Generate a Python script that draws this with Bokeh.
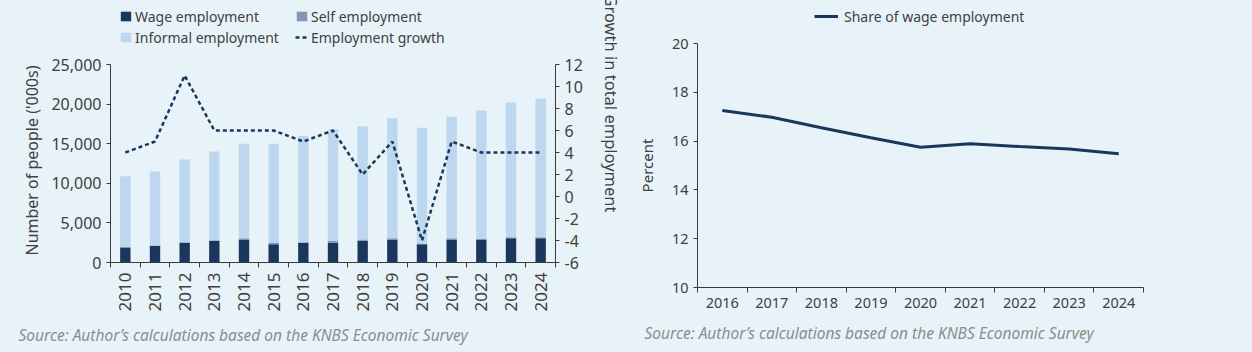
from bokeh.plotting import figure
from bokeh.models import (Range1d, LinearAxis, FixedTicker, NumeralTickFormatter,
                          Legend, LegendItem, Title, ColumnDataSource)
from bokeh.embed import file_html
from bokeh.resources import INLINE
from jinja2 import Template
from math import pi

# ---------------- data ----------------
years = [2010, 2011, 2012, 2013, 2014, 2015, 2016, 2017, 2018, 2019, 2020, 2021, 2022, 2023, 2024]
wage_employment = [1900, 2100, 2500, 2750, 2850, 2300, 2500, 2500, 2750, 2850, 2300, 2850, 2850, 3050, 3050]
self_employment = [50, 50, 50, 50, 200, 150, 50, 250, 150, 200, 100, 200, 150, 150, 150]
informal_employment = [8950, 9350, 10450, 11200, 11950, 12550, 13450, 14050, 14300, 15150, 14600, 15350, 16200, 17000, 17500]
employment_growth = [4, 5, 11, 6, 6, 6, 5, 6, 2, 5, -4, 5, 4, 4, 4]

share_years = [2016, 2017, 2018, 2019, 2020, 2021, 2022, 2023, 2024]
share_wage = [17.25, 16.98, 16.55, 16.14, 15.75, 15.89, 15.78, 15.68, 15.48]

left_ticks = [0, 5000, 10000, 15000, 20000, 25000]
right_ticks = [-6, -4, -2, 0, 2, 4, 6, 8, 10, 12]
share_ticks = [10, 12, 14, 16, 18, 20]

source_text = "Source: Author\u2019s calculations based on the KNBS Economic Survey"

# ---------------- style ----------------
BG = "#E8F3F9"
NAVY = "#1B365D"
SELF = "#8497B0"
INFORMAL = "#BDD7EE"
TXT = "#404040"
AX = "#3A3A3A"
FONT = "Noto Sans"
NBSP = "\u00a0"

# layout (pixels): the frame is extended upward to hold the legend;
# the axes are bounded to the data extent
P1_TOP, P1_AXIS_TOP, P1_BOTTOM = 4, 64, 262
P2_TOP, P2_AXIS_TOP, P2_BOTTOM = 4, 43, 287
f1 = (P1_BOTTOM - P1_TOP) / (P1_BOTTOM - P1_AXIS_TOP)
f2 = (P2_BOTTOM - P2_TOP) / (P2_BOTTOM - P2_AXIS_TOP)


def style_axis(ax, size="16px", label_size="16px"):
    ax.axis_line_color = AX
    ax.major_tick_line_color = AX
    ax.minor_tick_line_color = AX
    ax.major_tick_in = 0
    ax.major_tick_out = 4
    ax.minor_tick_in = 0
    ax.minor_tick_out = 0
    ax.major_label_text_font = FONT
    ax.major_label_text_font_size = size
    ax.major_label_text_color = TXT
    ax.axis_label_text_font = FONT
    ax.axis_label_text_font_size = label_size
    ax.axis_label_text_font_style = "normal"
    ax.axis_label_text_color = TXT


def style_legend(lg, size="14px"):
    lg.background_fill_alpha = 0
    lg.border_line_color = None
    lg.label_text_font = FONT
    lg.label_text_font_size = size
    lg.label_text_color = TXT
    lg.padding = 0
    lg.margin = 0
    lg.label_height = 20


# ---------------- left chart ----------------
src = ColumnDataSource(dict(year=years, wage=wage_employment, selfe=self_employment,
                            informal=informal_employment, growth=employment_growth))

y1_lo, y1_hi = 0, max(left_ticks)
g_lo, g_hi = min(right_ticks), max(right_ticks)

p1 = figure(width=625, height=352, output_backend="svg", toolbar_location=None, name="p1",
            x_range=Range1d(min(years) - 0.5, max(years) + 0.5),
            y_range=Range1d(y1_lo, y1_lo + (y1_hi - y1_lo) * f1),
            min_border_left=110, min_border_right=70, min_border_top=P1_TOP,
            min_border_bottom=352 - P1_BOTTOM)
p1.extra_y_ranges = {"growth": Range1d(g_lo, g_lo + (g_hi - g_lo) * f1)}
p1.background_fill_color = BG
p1.border_fill_color = BG
p1.outline_line_color = None
p1.grid.visible = False

bars = p1.vbar_stack(["wage", "selfe", "informal"], x="year", width=0.35, source=src,
                     color=[NAVY, SELF, INFORMAL], line_color=None)
gline = p1.line("year", "growth", source=src, y_range_name="growth",
                line_color=NAVY, line_width=2.5, line_dash="4 3")

p1.xaxis.ticker = FixedTicker(ticks=years, minor_ticks=[y - 0.5 for y in years] + [max(years) + 0.5])
p1.yaxis.ticker = FixedTicker(ticks=left_ticks)
p1.yaxis.formatter = NumeralTickFormatter(format="0,0")
# trailing no-break spaces keep the label centred on the bounded axis
p1.yaxis.axis_label = "Number of people ('000s)" + NBSP * 13
p1.yaxis.bounds = (y1_lo, y1_hi)
for ax in p1.xaxis:
    style_axis(ax, "17px")
    ax.major_tick_out = 0
    ax.minor_tick_out = 5
    ax.major_label_orientation = pi / 2
for ax in p1.yaxis:
    style_axis(ax, "16px")

rax = LinearAxis(y_range_name="growth", ticker=FixedTicker(ticks=right_ticks), bounds=(g_lo, g_hi))
style_axis(rax, "16px", "16.5px")
rax.axis_label_standoff = 14
rax.major_label_overrides = {t: str(t) for t in right_ticks if t < 0}
right_label = "Growth in total employment"
try:
    rax.axis_label_orientation = "vertical"
    rax.axis_label = right_label + NBSP * 14
except Exception:
    rax.axis_label = NBSP * 14 + right_label
p1.add_layout(rax, "right")

leg1a = Legend(items=[
    LegendItem(label="Wage employment", renderers=[bars[0]]),
    LegendItem(label="Self employment", renderers=[bars[1]]),
], location=(9, 236), orientation="horizontal")
leg1b = Legend(items=[
    LegendItem(label="Informal employment", renderers=[bars[2]]),
    LegendItem(label="Employment growth", renderers=[gline]),
], location=(9, 215), orientation="horizontal")
for lg in (leg1a, leg1b):
    style_legend(lg)
    lg.glyph_width = 13
    lg.glyph_height = 12
    lg.label_standoff = 3
    lg.label_width = 152
    lg.spacing = 8
    p1.add_layout(lg)

t1 = Title(text=source_text, align="left", offset=-92, standoff=14, text_font=FONT,
           text_font_size="15.5px", text_font_style="italic", text_color="#8C8C8C")
p1.add_layout(t1, "below")

# ---------------- right chart ----------------
src2 = ColumnDataSource(dict(year=share_years, share=share_wage))
s_lo, s_hi = min(share_ticks), max(share_ticks)
p2 = figure(width=627, height=352, output_backend="svg", toolbar_location=None, name="p2",
            x_range=Range1d(min(share_years) - 0.5, max(share_years) + 0.5),
            y_range=Range1d(s_lo, s_lo + (s_hi - s_lo) * f2),
            min_border_left=72, min_border_right=109, min_border_top=P2_TOP,
            min_border_bottom=352 - P2_BOTTOM)
p2.background_fill_color = BG
p2.border_fill_color = BG
p2.outline_line_color = None
p2.grid.visible = False

sline = p2.line("year", "share", source=src2, line_color=NAVY, line_width=3)

p2.xaxis.ticker = FixedTicker(ticks=share_years,
                              minor_ticks=[y - 0.5 for y in share_years] + [max(share_years) + 0.5])
p2.yaxis.ticker = FixedTicker(ticks=share_ticks)
p2.yaxis.axis_label = "Percent" + NBSP * 10
p2.yaxis.bounds = (s_lo, s_hi)
for ax in p2.xaxis:
    style_axis(ax, "14.5px")
    ax.major_tick_out = 0
    ax.minor_tick_out = 5
for ax in p2.yaxis:
    style_axis(ax, "14.5px", "15px")
    ax.axis_label_standoff = 12

leg2 = Legend(items=[LegendItem(label="Share of wage employment", renderers=[sline])],
              location=(117, 261), orientation="horizontal")
style_legend(leg2)
leg2.glyph_width = 24
leg2.label_standoff = 6
p2.add_layout(leg2)

t2 = Title(text=source_text, align="left", offset=-53, standoff=18, text_font=FONT,
           text_font_size="15.5px", text_font_style="italic", text_color="#8C8C8C")
p2.add_layout(t2, "below")

template = Template("""{% extends base %}
{% block contents %}
<style>html, body { margin: 0; padding: 0; background: #E8F3F9; }</style>
<div style="display:flex; flex-direction:row; width:1252px; height:352px; overflow:hidden;">
{{ embed(roots.p1) }}
{{ embed(roots.p2) }}
</div>
{% endblock %}
""")

with open("out.html", "w") as f:
    f.write(file_html([p1, p2], INLINE, template=template))
